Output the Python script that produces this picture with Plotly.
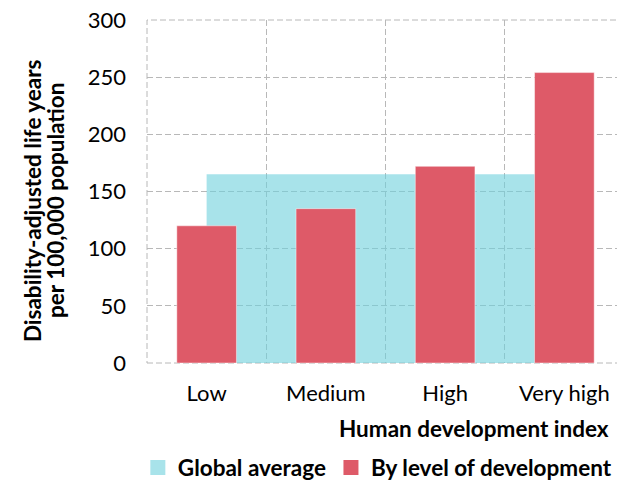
import plotly.graph_objects as go

categories = ["Low", "Medium", "High", "Very high"]
by_level = [120, 135, 172, 254]
global_average = [165, 165, 165, 165]
y_title_lines = ["Disability-adjusted life years", "per 100,000 population"]
x_title = "Human development index"

BLUE = "rgba(110,208,220,0.6)"
BLUE_SOLID = "#A8E3EA"
RED = "#DE5A68"
GRID = "#B8B8B8"
DASH = "6px,3px"
FONT = "Lato"
TICK_SIZE = 22
BOLD_SIZE = 22.5

fig = go.Figure()

# global average area (main subplot, drawn underneath)
fig.add_trace(go.Scatter(
    x=categories, y=global_average, name="Global average",
    mode="lines", line=dict(width=0, color=BLUE),
    fill="tozeroy", fillcolor=BLUE,
    xaxis="x", yaxis="y", hoverinfo="skip", showlegend=False,
))
# legend proxy for the area
fig.add_trace(go.Scatter(
    x=[None], y=[None], name="<b>Global average</b>", mode="markers",
    marker=dict(symbol="square", size=15, color=BLUE_SOLID),
    xaxis="x", yaxis="y", showlegend=True,
))
# bars on an overlaying axis so they are drawn above the area
fig.add_trace(go.Bar(
    x=categories, y=by_level, name="By level of development",
    marker=dict(color=RED, line=dict(color="rgba(255,255,255,0.45)", width=1)),
    xaxis="x2", yaxis="y", showlegend=False,
))
# legend proxy for the bars
fig.add_trace(go.Scatter(
    x=[None], y=[None], name="<b>By level of development</b>", mode="markers",
    marker=dict(symbol="square", size=15, color=RED),
    xaxis="x", yaxis="y", showlegend=True,
))

fig.update_layout(
    width=617, height=472,
    margin=dict(l=139, r=1, t=12, b=117, autoexpand=False),
    paper_bgcolor="white", plot_bgcolor="white",
    bargap=0.5,
    font=dict(family=FONT, size=TICK_SIZE, color="black"),
    xaxis=dict(
        type="category", categoryorder="array", categoryarray=categories,
        tickson="boundaries", showgrid=True, gridcolor=GRID, griddash=DASH,
        gridwidth=1, ticks="", showline=False, zeroline=False,
        ticklabelstandoff=15, tickfont=dict(size=TICK_SIZE),
        range=[-0.5, 3.5], automargin=False, ticklabeloverflow="allow",
    ),
    xaxis2=dict(
        type="category", categoryorder="array", categoryarray=categories,
        overlaying="x", matches="x", visible=False, showgrid=False,
        range=[-0.5, 3.5],
    ),
    yaxis=dict(
        range=[0, 300], dtick=50, showgrid=True, gridcolor=GRID,
        griddash=DASH, gridwidth=1, zeroline=False, showline=False,
        ticks="", ticklabelstandoff=20, tickfont=dict(size=TICK_SIZE),
        automargin=False, ticklabeloverflow="allow",
    ),
    legend=dict(
        orientation="h", x=0.985, xanchor="right", y=-0.243, yanchor="top",
        font=dict(size=BOLD_SIZE), itemwidth=30, traceorder="normal",
        bgcolor="rgba(0,0,0,0)",
    ),
    annotations=[
        dict(text=f"<b>{x_title}</b>", xref="paper", yref="paper",
             x=0.972, y=-0.19, xanchor="right", yanchor="middle", showarrow=False,
             font=dict(size=BOLD_SIZE)),
        dict(text=f"<b>{y_title_lines[0]}</b>", xref="paper", yref="paper",
             x=-0.2411, y=0.475, xanchor="center", yanchor="middle", showarrow=False,
             textangle=-90, font=dict(size=BOLD_SIZE)),
        dict(text=f"<b>{y_title_lines[1]}</b>", xref="paper", yref="paper",
             x=-0.193, y=0.475, xanchor="center", yanchor="middle", showarrow=False,
             textangle=-90, font=dict(size=BOLD_SIZE)),
    ],
    shapes=[dict(
        type="rect", xref="paper", yref="paper", x0=0, x1=1, y0=0, y1=1,
        line=dict(color=GRID, width=1, dash=DASH), layer="below",
    )],
)

fig.write_html("out.html")
